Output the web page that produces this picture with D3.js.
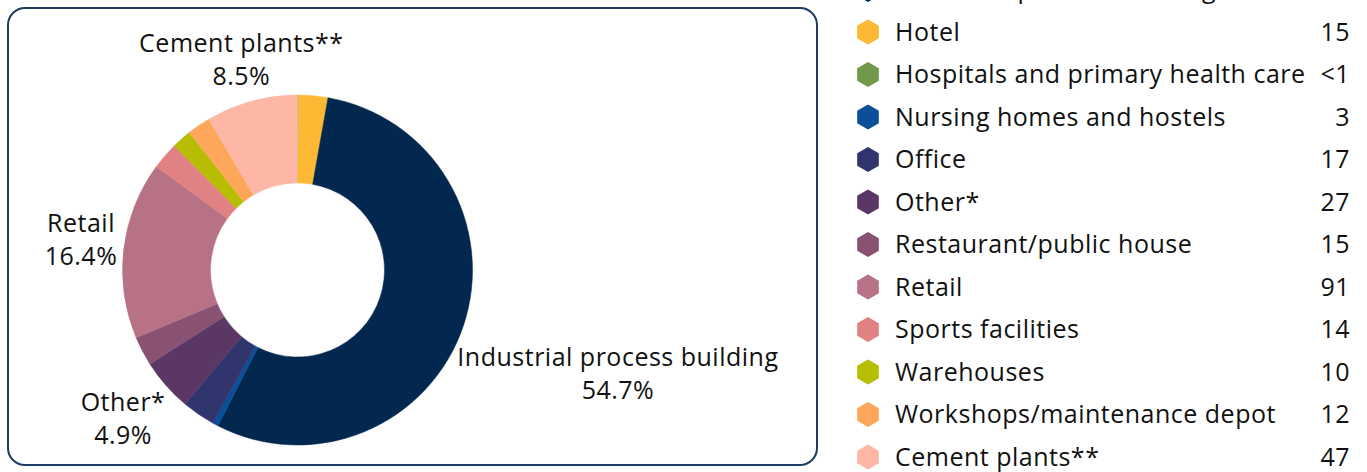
<!DOCTYPE html>
<html>
<head>
<meta charset="utf-8">
<script src="https://cdn.jsdelivr.net/npm/d3@7"></script>
<style>
  html, body { margin: 0; padding: 0; background: #fff; }
  svg { display: block; }
  text { font-family: "Open Sans", "Noto Sans", sans-serif; fill: #111; font-weight: 500; letter-spacing: 0.5px; }
</style>
</head>
<body>
<svg id="chart" width="1367" height="472"></svg>
<script>
// Building types, in legend order
const categories = [
  "Industrial process building",
  "Hotel",
  "Hospitals and primary health care",
  "Nursing homes and hostels",
  "Office",
  "Other*",
  "Restaurant/public house",
  "Retail",
  "Sports facilities",
  "Warehouses",
  "Workshops/maintenance depot",
  "Cement plants**"
];
// Number of buildings per type (hospitals is below one)
const values = [304, 15, 0.5, 3, 17, 27, 15, 91, 14, 10, 12, 47];
// Value text shown in the legend
const valueLabels = ["304", "15", "<1", "3", "17", "27", "15", "91", "14", "10", "12", "47"];
const colors = [
  "#02284f", "#fdb933", "#71994a", "#0a4f98", "#31356e", "#5b3765",
  "#895172", "#b87285", "#e08283", "#b7bd00", "#fea75a", "#ffb7a5"
];
// Order of slices clockwise from twelve o'clock
const pieOrder = [
  "Hospitals and primary health care", "Hotel", "Industrial process building",
  "Nursing homes and hostels", "Office", "Other*", "Restaurant/public house",
  "Retail", "Sports facilities", "Warehouses", "Workshops/maintenance depot",
  "Cement plants**"
];
// Slices carrying an on-chart label, with the label's distance from the centre
const labelled = [
  ["Cement plants**", "Cement plants**", 214],
  ["Retail", "Retail", 218],
  ["Other*", "Other*", 232],
  ["Industrial process building", "Industrial process building", 338]
];

const svg = d3.select("#chart");
const cx = 297.5, cy = 270, outerR = 175, innerR = 87;
const fontSize = 25;

// Rounded frame around the donut
svg.append("rect")
  .attr("x", 8).attr("y", 8)
  .attr("width", 809).attr("height", 457)
  .attr("rx", 17).attr("ry", 17)
  .attr("fill", "none")
  .attr("stroke", "#1d3c63")
  .attr("stroke-width", 2);

const rows = categories.map((c, i) => ({ name: c, value: values[i], label: valueLabels[i], color: colors[i] }));
const byName = new Map(rows.map(r => [r.name, r]));
const total = d3.sum(values);

const pie = d3.pie().sort(null).value(d => d.value);
const arcs = pie(pieOrder.map(n => byName.get(n)));
const arc = d3.arc().innerRadius(innerR).outerRadius(outerR);

const g = svg.append("g").attr("transform", `translate(${cx},${cy})`);
g.selectAll("path.slice")
  .data(arcs)
  .join("path")
  .attr("class", "slice")
  .attr("d", arc)
  .attr("fill", d => d.data.color)
  .attr("stroke", d => d.data.color)
  .attr("stroke-width", 0.5);

// Slice labels, set out along each slice's middle direction
const arcByName = new Map(arcs.map(a => [a.data.name, a]));
labelled.forEach(([name, text, r]) => {
  const a = arcByName.get(name);
  const mid = (a.startAngle + a.endAngle) / 2;
  const x = Math.sin(mid) * r, y = -Math.cos(mid) * r;
  const pct = (a.data.value / total * 100).toFixed(1) + "%";
  const t = g.append("text")
    .attr("text-anchor", "middle")
    .attr("font-size", fontSize);
  t.append("tspan").attr("x", x).attr("y", y - 12).text(text);
  t.append("tspan").attr("x", x).attr("y", y + 21).text(pct);
});

// Legend with hexagon keys
const ly = d3.scalePoint().domain(categories).range([-10.5, 457]);
const hex = d3.range(6).map(k => {
  const ang = Math.PI / 3 * k;
  return [Math.sin(ang) * 12.5, -Math.cos(ang) * 12.5];
});
const leg = svg.append("g");
const item = leg.selectAll("g.item")
  .data(rows)
  .join("g")
  .attr("class", "item")
  .attr("transform", d => `translate(0,${ly(d.name)})`);
item.append("path")
  .attr("d", "M" + hex.map(p => p.join(",")).join("L") + "Z")
  .attr("transform", "translate(868,0)")
  .attr("fill", d => d.color);
item.append("text")
  .attr("x", 895).attr("y", 0)
  .attr("dy", "0.35em")
  .attr("font-size", fontSize)
  .text(d => d.name);
item.append("text")
  .attr("x", 1350).attr("y", 0)
  .attr("dy", "0.35em")
  .attr("text-anchor", "end")
  .attr("font-size", fontSize)
  .text(d => d.label);
</script>
</body>
</html>
